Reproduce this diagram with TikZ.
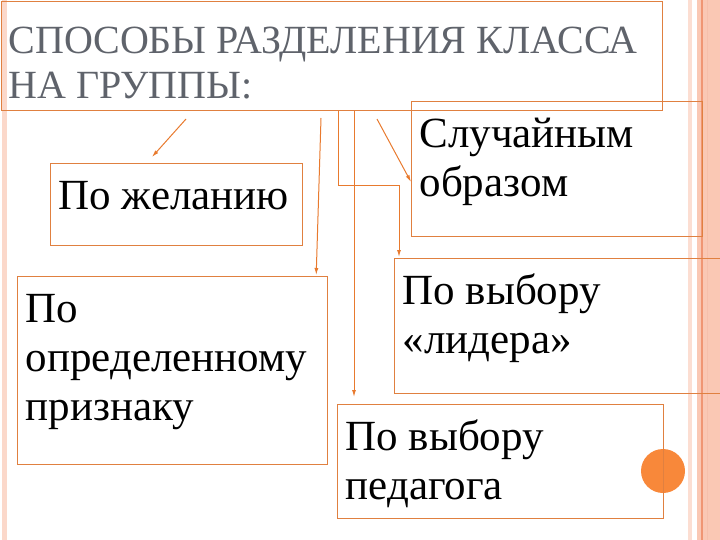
\documentclass[tikz,border=0pt]{standalone}
\usepackage{fontspec}
\setmainfont{Liberation Serif}
\usepackage{tikz}
\usetikzlibrary{arrows.meta}

\definecolor{boxorange}{RGB}{224,128,64}
\definecolor{arroworange}{RGB}{232,122,46}
\definecolor{titlegray}{RGB}{95,99,107}
\definecolor{dotorange}{RGB}{248,136,58}
\definecolor{stripepink}{RGB}{250,200,180}
\definecolor{stripedark}{RGB}{240,150,115}

\tikzset{
    box/.style={draw=boxorange, line width=1.2pt, anchor=north west,
        inner xsep=8pt, inner ysep=12pt, font=\fontsize{43}{49}\selectfont},
    titlebox/.style={draw=boxorange, line width=1pt, anchor=north west,
        inner xsep=7pt, inner ysep=21pt, text=titlegray,
        font=\fontsize{40}{45}\selectfont},
    arrow/.style={draw=arroworange, line width=1pt, -{Latex[length=7pt,width=4pt]}}
}

\begin{document}
\begin{tikzpicture}[x=1pt, y=-1pt]
    \useasboundingbox (0,0) rectangle (720,540);

    % side stripes
    \fill[stripepink!70] (2,0) rectangle (7,540);
    \fill[stripepink!60] (688,0) rectangle (692,540);
    \fill[stripepink] (697,0) rectangle (720,540);
    \draw[stripedark, line width=1.5pt] (702,0) -- (702,540);
    \draw[stripedark!60, line width=1pt] (707,0) -- (707,540);

    \fill[dotorange] (663,471) circle (22);

    \node[titlebox] (title) at (1,1)
        {\parbox[t][67pt][t]{647pt}{\strut СПОСОБЫ РАЗДЕЛЕНИЯ КЛАССА\\НА ГРУППЫ:}};

    \node[box] (wish) at (50,163) {\parbox[t][58pt][t]{236pt}{\strut По желанию}};
    \node[box] (random) at (411,101) {\parbox[t][111pt][t]{275pt}{\strut Случайным\\образом}};
    \node[box] (feature) at (17,276) {\parbox[t][164pt][t]{294pt}{\strut По\\определенному\\признаку}};
    \node[box] (leader) at (394,258) {\parbox[t][111pt][t]{324pt}{\strut По выбору\\«лидера»}};
    \node[box] (teacher) at (337,404) {\parbox[t][90pt][t]{310pt}{\strut По выбору\\педагога}};

    \draw[arrow] ([xshift=185pt,yshift=-8pt]title.south west) -- ([xshift=102pt,yshift=6pt]wish.north west);
    \draw[arrow] ([xshift=320pt,yshift=-7pt]title.south west) -- ([xshift=-12pt,yshift=1pt]feature.north east);
    \draw[arrow] ([xshift=337pt]title.south west) -- ++(0,75) -| ([xshift=5pt,yshift=1pt]leader.north west);
    \draw[arrow] ([xshift=353pt]title.south west) -- ([xshift=17pt,yshift=7pt]teacher.north west);
    \draw[arrow] ([xshift=376pt,yshift=-8pt]title.south west) -- ([yshift=-81pt]random.north west);
\end{tikzpicture}
\end{document}
